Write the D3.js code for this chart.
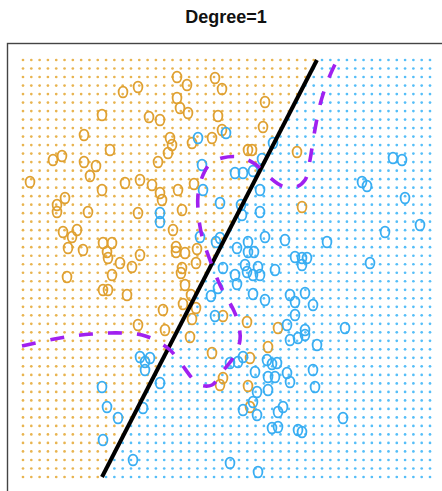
<!DOCTYPE html>
<html>
<head>
<meta charset="utf-8">
<script src="https://cdn.jsdelivr.net/npm/d3@7"></script>
<style>
  body { margin: 0; background: #fff; }
  svg { display: block; }
</style>
</head>
<body>
<div id="chart"></div>
<script>
// data (x1, x2 in arbitrary units)
let orangeX = [-1.03, -0.88, -1.24, -0.77, -1.42, -1.16, -1.73, -1.64, -1.42, -1.30, -1.36, -1.96, -1.01, -0.86, -1.24,
    -0.49, -0.39, -0.11, -0.04, -0.49, -0.46, -0.38, -0.08, 0.39, 0.37, -0.66, -0.04, -0.56, -0.54, -0.58, -0.34, -0.14,
    -0.68, 0.22, 0.26, 0.71, -0.74, -0.48, -0.32, 0.76, -0.44, -1.61, -1.69, -1.69, -1.38, -0.88, -1.63, -1.49, -1.54,
    -1.58, -1.43, -1.23, -1.14, -1.19, -1.18, -1.06, -0.94, -0.86, -1.59, -1.14, -1.23, -1.18, -0.99, -0.88, -0.66, -0.64,
    -0.53, -0.50, -0.50, -0.41, -0.29, -0.30, -0.44, -0.45, -0.41, -0.35, -0.43, -0.30, -0.63, -0.34, -0.03, 0.21, 0.52,
    -0.61, -0.36, -0.14, 0.42, 0.24, -0.03, -0.06, 0.22, 0.24];
let orangeY = [1.76, 1.81, 1.53, 1.51, 1.33, 1.18, 1.08, 1.12, 1.06, 1.02, 0.92, 0.86, 0.85, 0.88, 0.78,
    1.91, 1.83, 1.90, 1.79, 1.70, 1.60, 1.55, 1.52, 1.66, 1.41, 1.48, 1.38, 1.30, 1.23, 1.15, 1.25, 1.30,
    1.06, 1.18, 1.18, 1.16, 0.83, 0.78, 0.84, 0.61, 0.58, 0.70, 0.63, 0.56, 0.56, 0.55, 0.36, 0.38, 0.31,
    0.20, 0.18, 0.25, 0.25, 0.16, 0.10, 0.05, 0.01, 0.13, -0.09, -0.07, -0.22, -0.22, -0.27, -0.57, 0.75, 0.68,
    0.38, 0.21, 0.16, 0.15, 0.19, 0.05, 0.00, -0.05, -0.17, -0.27, -0.36, -0.40, -0.42, -0.51, -0.48, -0.54, -0.60,
    -0.62, -0.69, -0.85, -0.79, -0.90, -1.10, -1.17, -1.18, -1.39];

let blueX = [-0.28, 0.00, -0.24, 0.09, 0.17, 0.27, 0.36, 0.47, -0.23, 0.34, -0.06, 0.15, 0.16, 0.34, -0.66, -0.66,
    -0.26, -0.10, -0.06, 0.39, 0.59, 1.01, 0.11, 0.22, 0.28, 0.22, 0.69, 0.76, 0.81, 0.76, 1.36, 1.41, 1.67, 1.76,
    1.79, 1.94, 1.59, 1.44, -0.03, 0.09, 0.19, 0.21, 0.27, 0.34, 0.32, 0.49, 0.11, 0.27, -0.15, -0.08, 0.39, 0.64,
    0.69, -0.11, 0.69, 0.61, 0.79, 0.87, 1.19, 0.79, -0.86, -0.81, -0.81, -0.76, -0.66, -1.24, -1.19, -1.08, -0.83,
    -1.23, -0.93, 0.04, 0.12, 0.17, 0.29, 0.41, 0.46, 0.51, 0.42, 0.49, 0.61, 0.64, 0.31, 0.42, 0.17, 0.27, 0.31,
    0.52, 0.57, 0.46, 0.52, 0.72, 0.04, 0.32, 0.64, 0.72, 0.79, 0.91, 0.87, 0.89, 1.17, 0.76];
let blueY = [1.30, 1.35, 1.03, 0.95, 0.95, 0.97, 1.09, 1.25, 0.78, 0.78, 0.65, 0.63, 0.53, 0.56, 0.55, 0.46,
    0.31, 0.26, 0.30, 0.31, 0.28, 0.26, 0.20, 0.16, 0.16, 0.26, 0.11, 0.10, 0.10, 0.03, 0.86, 0.82, 1.10, 1.08,
    0.70, 0.43, 0.36, 0.05, 0.00, -0.07, 0.03, -0.04, -0.07, -0.07, 0.01, -0.02, -0.16, -0.26, -0.28, -0.20, -0.32, -0.27,
    -0.34, -0.48, -0.47, -0.57, -0.25, -0.37, -0.60, -0.62, -0.89, -0.94, -1.02, -0.90, -1.15, -1.19, -1.39, -1.50, -1.40,
    -1.72, -1.92, -0.95, -0.94, -0.89, -1.04, -0.92, -0.96, -0.95, -1.09, -1.09, -1.05, -1.14, -1.24, -1.22, -1.42, -1.34, -1.47,
    -1.44, -1.39, -1.60, -1.59, -1.62, -1.95, -2.04, -0.72, -0.70, -0.67, -0.77, -1.02, -1.19, -1.50, -1.64];

// bayes decision boundary (purple dashed)
let bayesX = [-2.04, -1.66, -1.34, -1.04, -0.84, -0.69, -0.56, -0.46, -0.34, -0.26, -0.14, -0.04, 0.07, 0.14, 0.12,
    0.08, -0.06, -0.16, -0.23, -0.27, -0.28, -0.23, -0.16, -0.04, 0.14, 0.29, 0.42, 0.56, 0.70, 0.79, 0.84, 0.88,
    0.94, 1.02, 1.11];
let bayesY = [-0.78, -0.70, -0.66, -0.65, -0.67, -0.73, -0.82, -0.94, -1.10, -1.17, -1.17, -1.04, -0.90, -0.72, -0.54,
    -0.43, -0.17, 0.08, 0.28, 0.48, 0.73, 0.93, 1.04, 1.10, 1.11, 1.04, 0.92, 0.82, 0.81, 0.88, 1.08, 1.33,
    1.63, 1.88, 2.08];

// linear svm boundary: x2 = intercept + slope * x1
let svmIntercept = 0.316;
let svmSlope = 1.94;

// grid of the plotting region
let xRange = [-2.03, 2.04];
let yRange = [-2.09, 2.08];
let gridN = 50;

// svg definitions
let svgWidth = 442;
let svgHeight = 491;
let colOrange = '#DFA030';
let colBlue = '#38ADF2';
let dotOrange = '#E8B450';
let dotBlue = '#55BEF8';

let svg = d3.select('#chart').append('svg')
    .attr('width', svgWidth)
    .attr('height', svgHeight);

// scales
let xScale = d3.scaleLinear().domain(xRange).range([23, 430]);
let yScale = d3.scaleLinear().domain(yRange).range([477, 60]);

// title
svg.append('text')
    .attr('x', 226)
    .attr('y', 23)
    .attr('text-anchor', 'middle')
    .attr('font-family', 'Liberation Sans, Arial, sans-serif')
    .attr('font-weight', 'bold')
    .attr('font-size', '18px')
    .attr('fill', '#111')
    .text('Degree=1');

// box
svg.append('rect')
    .attr('x', 7.5)
    .attr('y', 43.5)
    .attr('width', 438)
    .attr('height', 450)
    .attr('fill', 'none')
    .attr('stroke', '#444')
    .attr('stroke-width', 1.4);

// grid of predicted classes
let gx = d3.range(gridN).map(i => xRange[0] + i * (xRange[1] - xRange[0]) / (gridN - 1));
let gy = d3.range(gridN).map(i => yRange[0] + i * (yRange[1] - yRange[0]) / (gridN - 1));
let grid = [];
gx.forEach(x => gy.forEach(y => grid.push({x: x, y: y})));

svg.append('g').selectAll('circle')
    .data(grid)
    .enter()
    .append('circle')
    .attr('cx', d => xScale(d.x))
    .attr('cy', d => yScale(d.y))
    .attr('r', 1.35)
    .attr('fill', d => d.y > svmIntercept + svmSlope * d.x ? dotOrange : dotBlue);

// observations
let points = orangeX.map((x, i) => ({x: x, y: orangeY[i], c: colOrange}))
    .concat(blueX.map((x, i) => ({x: x, y: blueY[i], c: colBlue})));

svg.append('g').selectAll('ellipse')
    .data(points)
    .enter()
    .append('ellipse')
    .attr('cx', d => xScale(d.x))
    .attr('cy', d => yScale(d.y))
    .attr('rx', 4.4)
    .attr('ry', 5.4)
    .attr('fill', 'none')
    .attr('stroke', d => d.c)
    .attr('stroke-width', 1.8);

// svm line
let lineY = [yRange[0], yRange[1]];
svg.append('line')
    .attr('x1', xScale((lineY[0] - svmIntercept) / svmSlope))
    .attr('y1', yScale(lineY[0]))
    .attr('x2', xScale((lineY[1] - svmIntercept) / svmSlope))
    .attr('y2', yScale(lineY[1]))
    .attr('stroke', '#000')
    .attr('stroke-width', 4);

// bayes boundary
let bayesLine = d3.line()
    .x(d => xScale(d[0]))
    .y(d => yScale(d[1]))
    .curve(d3.curveCatmullRom);

svg.append('path')
    .datum(bayesX.map((x, i) => [x, bayesY[i]]))
    .attr('d', bayesLine)
    .attr('fill', 'none')
    .attr('stroke', '#A020F0')
    .attr('stroke-width', 3.6)
    .attr('stroke-dasharray', '14 15');
</script>
</body>
</html>
